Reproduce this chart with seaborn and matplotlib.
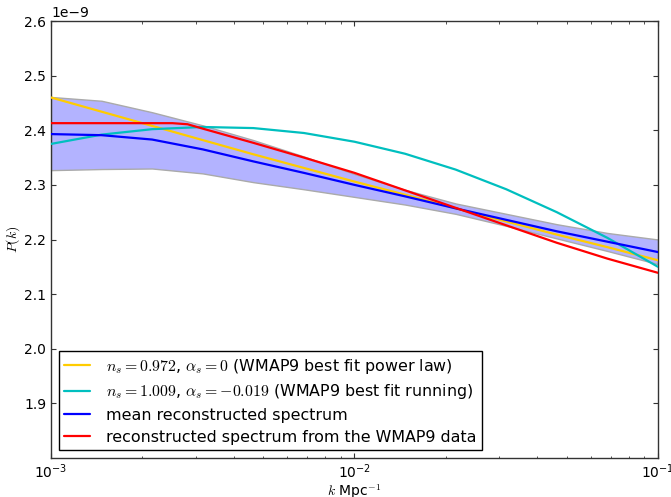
import numpy as np
import pandas as pd
import matplotlib
matplotlib.use("Agg")
import matplotlib.pyplot as plt
import seaborn as sns

# Wavenumbers (log10 k, k in Mpc^-1) shared by most curves
log_k = [-3.0, -2.8333, -2.6667, -2.5, -2.3333, -2.1667, -2.0,
         -1.8333, -1.6667, -1.5, -1.3333, -1.1667, -1.0]

# Power spectra in units of 1e-9
p_power_law = [2.460, 2.434, 2.408, 2.382, 2.356, 2.331, 2.306,
               2.282, 2.257, 2.233, 2.209, 2.186, 2.162]
p_running = [2.375, 2.392, 2.402, 2.406, 2.404, 2.395, 2.379,
             2.357, 2.328, 2.292, 2.250, 2.203, 2.150]
p_mean = [2.393, 2.391, 2.383, 2.365, 2.343, 2.322, 2.300,
          2.279, 2.257, 2.236, 2.215, 2.196, 2.177]
band_upper = [2.461, 2.454, 2.433, 2.409, 2.382, 2.352, 2.320,
              2.291, 2.266, 2.247, 2.228, 2.212, 2.200]
band_lower = [2.327, 2.329, 2.330, 2.321, 2.305, 2.292, 2.278,
              2.264, 2.247, 2.225, 2.202, 2.179, 2.155]

# Reconstructed spectrum from data (finer sampling near the turnover)
log_k_data = [-3.0, -2.8333, -2.6667, -2.6, -2.55, -2.5, -2.3333,
              -2.1667, -2.0, -1.8333, -1.6667, -1.5, -1.3333, -1.1667, -1.0]
p_data = [2.413, 2.413, 2.413, 2.413, 2.411, 2.403, 2.377,
          2.350, 2.322, 2.290, 2.258, 2.226, 2.194, 2.165, 2.139]

labels = [
    r"$n_s=0.972$, $\alpha_s=0$ (WMAP9 best fit power law)",
    r"$n_s=1.009$, $\alpha_s=-0.019$ (WMAP9 best fit running)",
    "mean reconstructed spectrum",
    "reconstructed spectrum from the WMAP9 data",
]

sns.set_style("ticks")
plt.rcParams.update({
    "font.family": ["DejaVu Sans"],
    "mathtext.fontset": "cm",
    "font.size": 10,
    "text.color": "black",
    "axes.labelcolor": "black",
    "xtick.direction": "in",
    "ytick.direction": "in",
    "xtick.top": True,
    "ytick.right": True,
    "xtick.major.size": 3.5,
    "ytick.major.size": 3.5,
    "xtick.minor.size": 1.8,
    "ytick.minor.size": 1.8,
    "xtick.color": "#333333",
    "ytick.color": "#333333",
    "xtick.labelcolor": "black",
    "ytick.labelcolor": "black",
    "axes.edgecolor": "#333333",
    "axes.linewidth": 1.0,
})

k = 10.0 ** np.array(log_k)
k_data = 10.0 ** np.array(log_k_data)
scale = 1e-9

df = pd.DataFrame({
    "k": np.concatenate([k, k, k, k_data]),
    "P": np.concatenate([np.array(p_power_law), np.array(p_running),
                         np.array(p_mean), np.array(p_data)]) * scale,
    "curve": [labels[0]] * len(k) + [labels[1]] * len(k)
             + [labels[2]] * len(k) + [labels[3]] * len(k_data),
})

fig = plt.figure(figsize=(6.71, 4.97), dpi=100)
ax = fig.add_axes([0.076, 0.0785, 0.9046, 0.8792])

ax.fill_between(k, np.array(band_lower) * scale, np.array(band_upper) * scale,
                facecolor="#b3b3ff", edgecolor="#aaaaaa", linewidth=1.0,
                zorder=1)

palette = {labels[0]: "#ffcc00", labels[1]: "#00bfbf",
           labels[2]: "#0000ff", labels[3]: "#ff0000"}
sns.lineplot(data=df, x="k", y="P", hue="curve", hue_order=labels,
             palette=palette, linewidth=1.6, ax=ax, sort=False,
             estimator=None, zorder=3)

ax.set_xscale("log")
ax.set_xlim(1e-3, 1e-1)
ax.set_ylim(1.8e-9, 2.6e-9)
ax.set_yticks(np.arange(1.9, 2.61, 0.1) * scale)
ax.set_xlabel(r"$k$ Mpc$^{-1}$", fontsize=10, labelpad=0.5)
ax.set_ylabel(r"$P(k)$", fontsize=10, labelpad=1.5)

leg = ax.legend(loc="lower left", fontsize=11.4, frameon=True, fancybox=False,
                framealpha=1.0, edgecolor="black", handlelength=1.6,
                handletextpad=1.0, borderpad=0.35, labelspacing=0.42,
                borderaxespad=0.5)
leg.get_frame().set_linewidth(1.0)
for line in leg.get_lines():
    line.set_linewidth(1.6)
for txt in leg.get_texts():
    txt.set_color("black")

fig.savefig("out.png", dpi=100)
